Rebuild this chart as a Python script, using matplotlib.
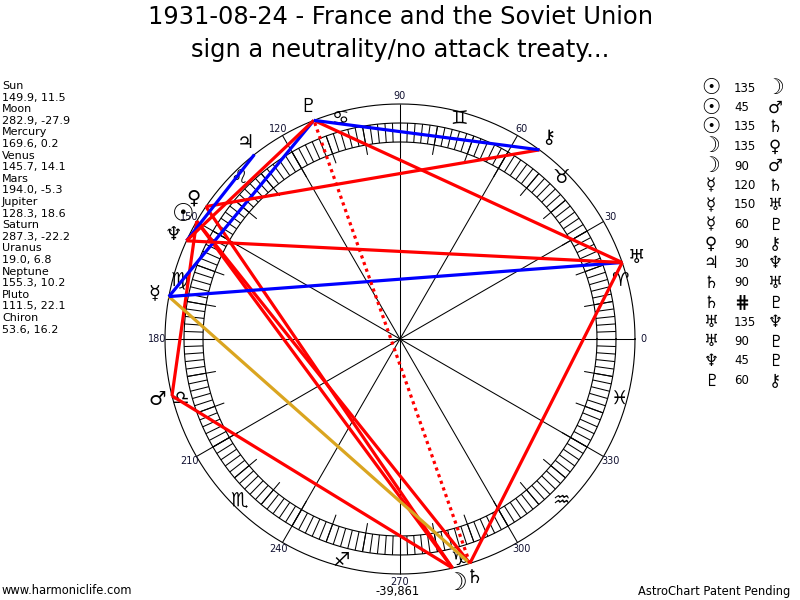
import numpy as np
import matplotlib
matplotlib.use("Agg")
import matplotlib.pyplot as plt
from matplotlib.collections import LineCollection

# ---------------- data ----------------
planet_names = ['Sun', 'Moon', 'Mercury', 'Venus', 'Mars', 'Jupiter',
                'Saturn', 'Uranus', 'Neptune', 'Pluto', 'Chiron']
planet_lon = [149.9, 282.9, 169.6, 145.7, 194.0, 128.3, 287.3, 19.0, 155.3, 111.5, 53.6]
planet_decl = [11.5, -27.9, 0.2, 14.1, -5.3, 18.6, -22.2, 6.8, 10.2, 22.1, 16.2]
planet_glyphs = ['☉', '☽', '☿', '♀', '♂', '♃', '♄', '♅', '♆', '♇', '⚷']

sign_glyphs = ['♈', '♉', '♊', '♋', '♌', '♍', '♎', '♏', '♐', '♑', '♒', '♓']
degree_labels = ['0', '30', '60', '90', '120', '150', '180', '210', '240', '270', '300', '330']

asp_p1 = ['Sun', 'Sun', 'Sun', 'Moon', 'Moon', 'Mercury', 'Mercury', 'Mercury',
          'Venus', 'Jupiter', 'Saturn', 'Saturn', 'Uranus', 'Uranus', 'Neptune', 'Pluto']
asp_type = ['135', '45', '135', '135', '90', '120', '150', '60',
            '90', '30', '90', '#', '135', '90', '45', '60']
asp_p2 = ['Moon', 'Mars', 'Saturn', 'Venus', 'Mars', 'Saturn', 'Uranus', 'Pluto',
          'Chiron', 'Neptune', 'Uranus', 'Pluto', 'Neptune', 'Pluto', 'Pluto', 'Chiron']

title_lines = ['1931-08-24 - France and the Soviet Union',
               'sign a neutrality/no attack treaty...']
footer_left = 'www.harmoniclife.com'
footer_mid = '-39,861'
footer_right = 'AstroChart Patent Pending'

# ---------------- styles ----------------
CX, CY = 400.0, 339.0
R_OUT = 235.0
R_BAND_IN, R_BAND_OUT = 197.0, 216.0
R_TICK_IN = 187.0
R_SIGN = 228.0
R_PLANET = 250.0
R_DEG = 243.0

aspect_style = {
    '135': dict(color='#ff0000', ls='-'),
    '45': dict(color='#ff0000', ls='-'),
    '90': dict(color='#ff0000', ls='-'),
    '120': dict(color='#daa520', ls='-'),
    '150': dict(color='#0000ff', ls='-'),
    '60': dict(color='#0000ff', ls='-'),
    '30': dict(color='#0000ff', ls='-'),
    '#': dict(color='#ff0000', ls=(0, (1, 1.2))),
}

fig = plt.figure(figsize=(8, 6), dpi=100)
ax = fig.add_axes([0, 0, 1, 1])
ax.set_xlim(0, 800)
ax.set_ylim(600, 0)
ax.axis('off')


def pt(lon, r):
    a = np.radians(lon)
    return CX + r * np.cos(a), CY - r * np.sin(a)


def glyph(name, g, x, y, size):
    """Draw a planet glyph at pixel position (x, y)."""
    if name == 'Sun':
        ax.text(x, y, g, fontsize=size * 1.3, fontweight='bold', ha='center', va='center', zorder=5)
    elif name == 'Moon':
        ax.text(x, y, g, fontsize=size * 1.25, ha='center', va='center', zorder=5)
    else:
        ax.text(x, y, g, fontsize=size, ha='center', va='center', zorder=5)


# circles
th = np.linspace(0, 360, 721)
for r in (R_OUT, R_BAND_IN, R_BAND_OUT):
    x, y = pt(th, r)
    ax.plot(x, y, color='black', lw=0.8, zorder=1)

segs = []
for d in np.arange(0, 360, 2):
    x0, y0 = pt(d, R_BAND_IN)
    x1, y1 = pt(d, R_BAND_OUT)
    segs.append([(x0, y0), (x1, y1)])
for d in np.arange(0, 360, 10):
    x0, y0 = pt(d, R_TICK_IN)
    x1, y1 = pt(d, R_BAND_OUT)
    segs.append([(x0, y0), (x1, y1)])
for d in np.arange(0, 360, 30):
    x1, y1 = pt(d, R_OUT)
    segs.append([(CX, CY), (x1, y1)])
ax.add_collection(LineCollection(segs, colors='black', linewidths=0.75, zorder=1))

# degree labels
for i, lab in enumerate(degree_labels):
    x, y = pt(30 * i, R_DEG)
    ax.text(x, y, lab, fontsize=7, color='#101030', ha='center', va='center', zorder=3)

# sign glyphs
for i, g in enumerate(sign_glyphs):
    x, y = pt(15 + 30 * i, R_SIGN)
    ax.text(x, y, g, fontsize=14, color='black', ha='center', va='center', zorder=3)

# aspect lines
lon_of = dict(zip(planet_names, planet_lon))
for a, t, b in zip(asp_p1, asp_type, asp_p2):
    x0, y0 = pt(lon_of[a], R_OUT)
    x1, y1 = pt(lon_of[b], R_OUT)
    st = aspect_style[t]
    ax.plot([x0, x1], [y0, y1], color=st['color'], ls=st['ls'], lw=2.3,
            solid_capstyle='butt', zorder=4)

# planet glyphs
for n, lon, g in zip(planet_names, planet_lon, planet_glyphs):
    x, y = pt(lon, R_PLANET)
    glyph(n, g, x, y, 14)

# title
ax.text(400, 17, title_lines[0], fontsize=17.4, ha='center', va='center')
ax.text(400, 50, title_lines[1], fontsize=17.4, ha='center', va='center')

# left list
left_lines = []
for n, lon, dc in zip(planet_names, planet_lon, planet_decl):
    left_lines.append(n)
    left_lines.append(f'{lon:.1f}, {dc:.1f}')
for i, s in enumerate(left_lines):
    ax.text(2, 86 + 11.6 * i, s, fontsize=8, ha='left', va='center')

# right aspect legend
gl_of = dict(zip(planet_names, planet_glyphs))
for i, (a, t, b) in enumerate(zip(asp_p1, asp_type, asp_p2)):
    yy = 88 + 19.5 * i
    glyph(a, gl_of[a], 711, yy, 12)
    if t == '#':
        ax.text(742, yy, '⋕', fontsize=13, fontweight='bold', ha='center', va='center')
    else:
        ax.text(734, yy, t, fontsize=8.5, ha='left', va='center')
    glyph(b, gl_of[b], 775, yy, 12)

# footer
ax.text(2, 591, footer_left, fontsize=8.3, ha='left', va='center')
ax.text(398, 592, footer_mid, fontsize=8.3, ha='center', va='center')
ax.text(790, 591, footer_right, fontsize=8.3, ha='right', va='center')

fig.savefig('out.png', dpi=100)
